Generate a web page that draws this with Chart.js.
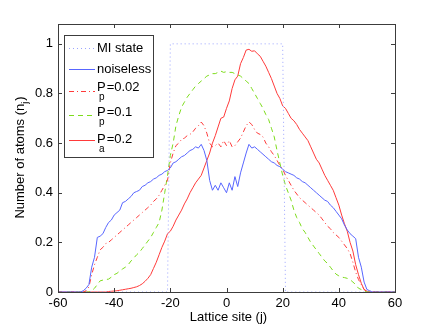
<!DOCTYPE html>
<html lang="en">
<head>
  <meta charset="UTF-8" />
  <title>Lattice site occupation</title>
  <script src="https://cdn.jsdelivr.net/npm/chart.js"></script>
  <style>
    html, body { margin: 0; padding: 0; background: #fff; }
  </style>
</head>
<body>
  <canvas id="chart" width="436" height="328"></canvas>

  <script>
    // lattice sites: far ends, then every site from -52 to 52
    const sites = [-60,
      -52, -51, -50, -49, -48, -47, -46, -45, -44, -43,
      -42, -41, -40, -39, -38, -37, -36, -35, -34, -33,
      -32, -31, -30, -29, -28, -27, -26, -25, -24, -23,
      -22, -21, -20, -19, -18, -17, -16, -15, -14, -13,
      -12, -11, -10, -9, -8, -7, -6, -5, -4, -3,
      -2, -1, 0, 1, 2, 3, 4, 5, 6, 7,
      8, 9, 10, 11, 12, 13, 14, 15, 16, 17,
      18, 19, 20, 21, 22, 23, 24, 25, 26, 27,
      28, 29, 30, 31, 32, 33, 34, 35, 36, 37,
      38, 39, 40, 41, 42, 43, 44, 45, 46, 47,
      48, 49, 50, 51, 52,
      60];

    const miSites = [-60, -21, -20, 20, 21, 60];
    const miState = [0, 0, 1, 1, 0, 0];

    const noiseless = [0,
      0, 0.005, 0.015, 0.03, 0.10, 0.14, 0.22, 0.225, 0.235, 0.26,
      0.28, 0.29, 0.31, 0.32, 0.33, 0.36, 0.365, 0.375, 0.385, 0.40,
      0.405, 0.41, 0.425, 0.43, 0.44, 0.445, 0.455, 0.46, 0.47, 0.475,
      0.485, 0.49, 0.50, 0.52, 0.525, 0.535, 0.545, 0.55, 0.56, 0.57,
      0.575, 0.585, 0.58, 0.595, 0.57, 0.53, 0.45, 0.41, 0.43, 0.41,
      0.44, 0.42, 0.40, 0.44, 0.41, 0.465, 0.425, 0.48, 0.52, 0.56,
      0.595, 0.58, 0.585, 0.575, 0.565, 0.555, 0.545, 0.535, 0.525, 0.52,
      0.51, 0.505, 0.495, 0.485, 0.48, 0.475, 0.47, 0.46, 0.455, 0.445,
      0.44, 0.43, 0.42, 0.41, 0.40, 0.39, 0.38, 0.37, 0.365, 0.35,
      0.34, 0.325, 0.31, 0.295, 0.27, 0.25, 0.235, 0.225, 0.215, 0.14,
      0.10, 0.04, 0.01, 0.005, 0,
      0];

    const pp002 = [0,
      0, 0, 0.005, 0.02, 0.07, 0.11, 0.14, 0.17, 0.18, 0.195,
      0.20, 0.21, 0.22, 0.23, 0.24, 0.25, 0.26, 0.27, 0.28, 0.29,
      0.30, 0.31, 0.32, 0.33, 0.34, 0.35, 0.365, 0.375, 0.39, 0.41,
      0.43, 0.45, 0.52, 0.56, 0.59, 0.60, 0.615, 0.62, 0.63, 0.635,
      0.645, 0.66, 0.67, 0.685, 0.67, 0.64, 0.60, 0.585, 0.59, 0.60,
      0.585, 0.61, 0.59, 0.61, 0.585, 0.59, 0.605, 0.62, 0.645, 0.67,
      0.685, 0.675, 0.655, 0.64, 0.635, 0.625, 0.60, 0.585, 0.565, 0.55,
      0.53, 0.51, 0.495, 0.47, 0.45, 0.43, 0.41, 0.395, 0.38, 0.37,
      0.36, 0.35, 0.34, 0.33, 0.32, 0.31, 0.295, 0.28, 0.265, 0.255,
      0.24, 0.23, 0.22, 0.205, 0.19, 0.175, 0.155, 0.12, 0.08, 0.05,
      0.03, 0.01, 0.003, 0, 0,
      0];

    const pp01 = [0,
      0, 0, 0, 0, 0.005, 0.015, 0.03, 0.045, 0.048, 0.05,
      0.052, 0.06, 0.07, 0.075, 0.085, 0.093, 0.10, 0.11, 0.125, 0.137,
      0.15, 0.16, 0.175, 0.19, 0.205, 0.22, 0.24, 0.26, 0.28, 0.33,
      0.40, 0.47, 0.55, 0.60, 0.67, 0.71, 0.745, 0.765, 0.785, 0.80,
      0.815, 0.83, 0.84, 0.85, 0.86, 0.87, 0.875, 0.88, 0.88, 0.885,
      0.89, 0.885, 0.888, 0.885, 0.885, 0.88, 0.875, 0.87, 0.86, 0.85,
      0.84, 0.82, 0.80, 0.78, 0.76, 0.74, 0.715, 0.695, 0.66, 0.625,
      0.57, 0.52, 0.47, 0.43, 0.40, 0.37, 0.33, 0.30, 0.28, 0.255,
      0.24, 0.22, 0.20, 0.185, 0.17, 0.155, 0.14, 0.125, 0.115, 0.10,
      0.085, 0.072, 0.065, 0.06, 0.058, 0.055, 0.05, 0.04, 0.03, 0.015,
      0.01, 0.003, 0, 0, 0,
      0];

    const pa02 = [0,
      0, 0, 0, 0, 0, 0, 0, 0, 0, 0,
      0.002, 0.003, 0.004, 0.005, 0.007, 0.009, 0.011, 0.013, 0.015, 0.018,
      0.021, 0.026, 0.033, 0.043, 0.055, 0.07, 0.095, 0.12, 0.15, 0.18,
      0.205, 0.235, 0.245, 0.265, 0.29, 0.31, 0.33, 0.355, 0.375, 0.40,
      0.42, 0.44, 0.455, 0.47, 0.50, 0.53, 0.56, 0.60, 0.63, 0.665,
      0.70, 0.705, 0.74, 0.77, 0.82, 0.855, 0.87, 0.92, 0.945, 0.975,
      0.978, 0.97, 0.972, 0.96, 0.95, 0.93, 0.91, 0.885, 0.86, 0.83,
      0.80, 0.78, 0.75, 0.74, 0.72, 0.70, 0.69, 0.675, 0.655, 0.64,
      0.625, 0.61, 0.585, 0.56, 0.535, 0.52, 0.495, 0.47, 0.45, 0.43,
      0.41, 0.38, 0.35, 0.31, 0.275, 0.245, 0.20, 0.165, 0.11, 0.07,
      0.035, 0.01, 0.003, 0, 0,
      0];

    const xTicks = [-60, -40, -20, 0, 20, 40, 60];
    const yTicks = [0, 0.2, 0.4, 0.6, 0.8, 1];

    const FONT = "'Liberation Sans', Arial, Helvetica, sans-serif";
    const BLUE = '#5866ff';
    const MI_BLUE = '#9aa3ff';
    const RED = '#ff3a3a';
    const GREEN = '#7ddc1c';

    // legend entries: label parts are [main, subscript, rest]
    const legendItems = [
      { color: MI_BLUE, dash: [1, 3], text: ['MI state', '', ''] },
      { color: BLUE, dash: [], text: ['noiseless', '', ''] },
      { color: RED, dash: [5, 3, 1, 3], text: ['P', 'p', '=0.02'] },
      { color: GREEN, dash: [5, 4], text: ['P', 'p', '=0.1'] },
      { color: RED, dash: [], text: ['P', 'a', '=0.2'] }
    ];

    const toPoints = (xs, ys) => xs.map((x, i) => ({ x: x, y: ys[i] }));

    function series(label, xs, ys, color, dash) {
      return {
        label: label,
        data: toPoints(xs, ys),
        borderColor: color,
        borderDash: dash,
        borderWidth: 1,
        pointRadius: 0,
        tension: 0,
        fill: false,
        clip: false
      };
    }

    // box, inward ticks, axis titles
    const framePlugin = {
      id: 'frame',
      afterDatasetsDraw(chart) {
        const ctx = chart.ctx;
        const a = chart.chartArea;
        const xs = chart.scales.x, ys = chart.scales.y;
        ctx.save();
        ctx.strokeStyle = '#3c3c3c';
        ctx.lineWidth = 1;
        ctx.setLineDash([]);
        ctx.strokeRect(Math.round(a.left) + 0.5, Math.round(a.top) + 0.5,
          Math.round(a.right - a.left), Math.round(a.bottom - a.top));
        ctx.beginPath();
        xTicks.forEach(v => {
          const px = Math.round(xs.getPixelForValue(v)) + 0.5;
          ctx.moveTo(px, a.bottom); ctx.lineTo(px, a.bottom - 4);
          ctx.moveTo(px, a.top); ctx.lineTo(px, a.top + 4);
        });
        yTicks.forEach(v => {
          const py = Math.round(ys.getPixelForValue(v)) + 0.5;
          ctx.moveTo(a.left, py); ctx.lineTo(a.left + 4, py);
          ctx.moveTo(a.right, py); ctx.lineTo(a.right - 4, py);
        });
        ctx.stroke();

        ctx.fillStyle = '#000';
        ctx.font = '13px ' + FONT;
        ctx.textBaseline = 'alphabetic';
        // x title
        ctx.textAlign = 'center';
        ctx.fillText('Lattice site (j)', (a.left + a.right) / 2 + 2, 321);
        // y title with subscript
        ctx.translate(24, (a.top + a.bottom) / 2);
        ctx.rotate(-Math.PI / 2);
        ctx.textAlign = 'left';
        const main = 'Number of atoms (n';
        const w1 = ctx.measureText(main).width;
        ctx.font = '9px ' + FONT;
        const w2 = ctx.measureText('j').width;
        ctx.font = '13px ' + FONT;
        const w3 = ctx.measureText(')').width;
        const start = -(w1 + w2 + w3) / 2;
        ctx.fillText(main, start, 0);
        ctx.font = '9px ' + FONT;
        ctx.fillText('j', start + w1, 4);
        ctx.font = '13px ' + FONT;
        ctx.fillText(')', start + w1 + w2 + 1, 0);
        ctx.restore();
      }
    };

    const legendPlugin = {
      id: 'mlegend',
      afterDraw(chart) {
        const ctx = chart.ctx;
        const box = { l: 64, t: 35, r: 153, b: 157 };
        const lineRows = [47.5, 68.5, 90.5, 115, 140];
        const textRows = [47, 68.5, 86.7, 111.7, 138];
        ctx.save();
        ctx.fillStyle = '#fff';
        ctx.fillRect(box.l, box.t, box.r - box.l, box.b - box.t);
        ctx.strokeStyle = '#3c3c3c';
        ctx.lineWidth = 1;
        ctx.strokeRect(box.l + 0.5, box.t + 0.5, box.r - box.l, box.b - box.t);
        legendItems.forEach((it, i) => {
          const y = Math.round(lineRows[i]) + 0.5;
          ctx.strokeStyle = it.color;
          ctx.setLineDash(it.dash);
          ctx.beginPath();
          ctx.moveTo(69, y);
          ctx.lineTo(95, y);
          ctx.stroke();
          ctx.setLineDash([]);
          ctx.fillStyle = '#000';
          ctx.textAlign = 'left';
          ctx.textBaseline = 'alphabetic';
          ctx.font = '13px ' + FONT;
          const x0 = 97;
          const base = textRows[i] + 4.7;
          if (!it.text[1]) {
            ctx.fillText(it.text[0], x0, base);
          } else {
            ctx.fillText(it.text[0], x0, base);
            const pw = ctx.measureText(it.text[0]).width;
            ctx.fillText(it.text[2], x0 + pw + 1, base);
            ctx.font = '10px ' + FONT;
            ctx.fillText(it.text[1], x0 + 2, base + 9);
          }
        });
        ctx.restore();
      }
    };

    const ctx = document.getElementById('chart').getContext('2d');
    const chart = new Chart(ctx, {
      type: 'line',
      data: {
        datasets: [
          series('MI state', miSites, miState, MI_BLUE, [1, 3]),
          series('noiseless', sites, noiseless, BLUE, []),
          series('Pp=0.02', sites, pp002, RED, [5, 3, 1, 3]),
          series('Pp=0.1', sites, pp01, GREEN, [5, 4]),
          series('Pa=0.2', sites, pa02, RED, [])
        ]
      },
      options: {
        responsive: false,
        animation: false,
        layout: { padding: { left: 0, top: 24, right: 41, bottom: 0 } },
        plugins: {
          legend: { display: false },
          tooltip: { enabled: false }
        },
        scales: {
          x: {
            type: 'linear',
            min: -60,
            max: 60,
            grid: { display: false, drawTicks: false },
            border: { display: false },
            afterBuildTicks: s => { s.ticks = xTicks.map(v => ({ value: v })); },
            afterFit: s => { s.height = 36; },
            ticks: {
              color: '#000',
              font: { family: FONT, size: 13 },
              padding: 4,
              maxRotation: 0,
              callback: v => String(v)
            }
          },
          y: {
            type: 'linear',
            min: 0,
            max: 1.08,
            grid: { display: false, drawTicks: false },
            border: { display: false },
            afterBuildTicks: s => { s.ticks = yTicks.map(v => ({ value: v })); },
            afterFit: s => { s.width = 58; },
            ticks: {
              color: '#000',
              font: { family: FONT, size: 13 },
              padding: 5,
              callback: v => String(v)
            }
          }
        }
      },
      plugins: [framePlugin, legendPlugin]
    });
  </script>
</body>
</html>
